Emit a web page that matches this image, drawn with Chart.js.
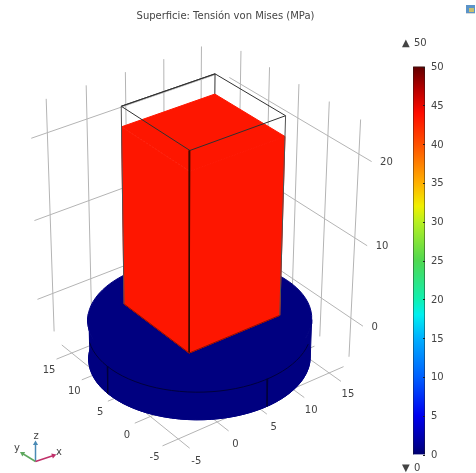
<!DOCTYPE html>
<html><head><meta charset="utf-8">
<script src="https://cdn.jsdelivr.net/npm/chart.js@4"></script>
<style>html,body{margin:0;padding:0;background:#fff;width:476px;height:473px;overflow:hidden}
canvas{position:absolute;top:0;display:block;filter:blur(0.4px)}</style></head>
<body>
<canvas id="main" width="476" height="473" style="left:0;width:476px;height:473px"></canvas>
<canvas id="bar" width="63" height="473" style="left:413px;width:63px;height:473px"></canvas>
<script>
// --- values ---
const titleText = 'Superficie: Tensión von Mises (MPa)';
const xTicks = [-5, 0, 5, 10, 15];
const yTicks = [-5, 0, 5, 10, 15];
const zTicks = [0, 10, 20];
const gridRange = [-7, 17];
const wallLeftY = 18.5, wallRightX = 17.7, floorZ = -6, wallZ = [-5, 24];
const discCentre = [5, 5], discRadius = 12, discZ = [-5, 0], discSeamZ = -1.5, discSeamAngles = [180, 270];
const blockX = [0, 12], blockY = [0, 12], blockZ = [0, 21.8], frameTopZ = 24.2;
const barTicks = [0, 5, 10, 15, 20, 25, 30, 35, 40, 45, 50];
const barRange = [0, 50];
const barStops = [0, 1, 5, 10, 15, 18, 20, 25, 30, 32, 35, 40, 44, 47, 50];
const barColors = ['#00006e','#000090','#0000f0','#0060ff','#00b0ff','#00f0f0','#10f0b0','#50d850','#b8f020','#f0f000','#ffb000','#ff5000','#ff0c00','#b80000','#600000'];
const minLabel = '0', maxLabel = '50';
const discColor = '#000080', blockColor = '#fe1600', gridColor = '#b4b4b4', textColor = '#444444';
// perspective camera fitted to the picture
const cam = [8.12004,-5.03989,-0.393278,189.139,-2.50591,-3.15897,-8.70878,353.079,0.00202599,0.00308388,-0.00223714];
const project = (x,y,z) => { const w = cam[8]*x+cam[9]*y+cam[10]*z+1;
  return {x:(cam[0]*x+cam[1]*y+cam[2]*z+cam[3])/w, y:(cam[4]*x+cam[5]*y+cam[6]*z+cam[7])/w}; };

const sets = [];
const line = (pts,color=gridColor,w=1) => sets.push({data:pts.map(p=>project(...p)),borderColor:color,borderWidth:w,showLine:true,pointRadius:0,fill:false,tension:0});
const poly = (pts,color) => sets.push({data:pts.map(p=>project(...p)),borderColor:color,backgroundColor:color,borderWidth:1,showLine:true,pointRadius:0,fill:'shape',tension:0});
const [g0,g1] = gridRange;
// floor and walls
for (const x of xTicks) line([[x,g0,floorZ],[x,g1,floorZ]]);
for (const y of yTicks) line([[g0,y,floorZ],[g1,y,floorZ]]);
for (const x of xTicks) line([[x,wallLeftY,wallZ[0]],[x,wallLeftY,wallZ[1]]]);
for (const y of yTicks) line([[wallRightX,y,wallZ[0]],[wallRightX,y,wallZ[1]]]);
for (const z of zTicks) { line([[g0,wallLeftY,z],[g1,wallLeftY,z]]); line([[wallRightX,g0,z],[wallRightX,g1,z]]); }
// back of the wire frame
const [bx0,bx1]=blockX,[by0,by1]=blockY,[bz0,bz1]=blockZ,ft=frameTopZ;
const frame='#303030';
line([[bx0,by1,ft],[bx1,by1,ft]],frame); line([[bx1,by1,ft],[bx1,by0,ft]],frame); line([[bx1,by1,ft],[bx1,by1,bz1]],frame);
// disc
const ring=(z,a0,a1)=>{const r=[];for(let a=a0;a<=a1;a+=4){const t=a*Math.PI/180;r.push([discCentre[0]+discRadius*Math.cos(t),discCentre[1]+discRadius*Math.sin(t),z]);}return r;};
poly(ring(discZ[0],0,360),discColor);
poly([...ring(discZ[1],140,320),...ring(discZ[0],140,320).reverse()],discColor);
poly(ring(discZ[1],0,360),discColor);
line(ring(discSeamZ,156,310),'#00003c');
for(const a of discSeamAngles){const t=a*Math.PI/180,x=discCentre[0]+discRadius*Math.cos(t),y=discCentre[1]+discRadius*Math.sin(t);line([[x,y,discSeamZ],[x,y,discZ[0]]],'#00003c');}
// block
poly([[bx0,by0,bz1],[bx1,by0,bz1],[bx1,by1,bz1],[bx0,by1,bz1]],blockColor);
poly([[bx0,by0,bz0],[bx1,by0,bz0],[bx1,by0,bz1],[bx0,by0,bz1]],blockColor);
poly([[bx0,by0,bz0],[bx0,by1,bz0],[bx0,by1,bz1],[bx0,by0,bz1]],blockColor);
// front of the wire frame
line([[bx0,by0,ft],[bx1,by0,ft]],frame); line([[bx0,by0,ft],[bx0,by1,ft]],frame); line([[bx0,by1,ft],[bx1,by1,ft]],frame);
line([[bx0,by0,ft],[bx0,by0,bz0]],'#3a0a00'); line([[bx1,by0,ft],[bx1,by0,bz0]],'#505050'); line([[bx0,by1,ft],[bx0,by1,bz0]],'#505050');
line([[bx0,by0,bz0],[bx1,by0,bz0]],'#901000'); line([[bx0,by0,bz0],[bx0,by1,bz0]],'#901000');
// orientation triad
const triadOrigin=[35.5,461.5];
const triad=[{tip:[0,-18],c:'#4a8ab5',rot:0},{tip:[-13,-8],c:'#5fa85f',rot:-58},{tip:[18,-6],c:'#c0306a',rot:72}];
for(const t of triad) sets.push({data:[{x:triadOrigin[0],y:triadOrigin[1]},{x:triadOrigin[0]+t.tip[0],y:triadOrigin[1]+t.tip[1]}],borderColor:t.c,backgroundColor:t.c,borderWidth:1.5,showLine:true,pointRadius:[0,3],pointStyle:'triangle',pointRotation:t.rot,pointBorderWidth:0,fill:false});
sets.forEach((s,i)=>{s.order=sets.length-i;});

const sceneText={id:'sceneText',afterDatasetsDraw(c){
  const {ctx,scales:{x:sx,y:sy}}=c, at=(p)=>[sx.getPixelForValue(p.x),sy.getPixelForValue(p.y)];
  ctx.save();ctx.font='10px "DejaVu Sans"';ctx.fillStyle=textColor;ctx.textAlign='center';ctx.textBaseline='middle';
  for(const v of xTicks){const [u,w]=at(project(v,-8.5,floorZ));ctx.fillText(String(v),u-2,w+6.5);}
  for(const v of yTicks){const [u,w]=at(project(-9,v,floorZ));ctx.fillText(String(v),u+8,w+5);}
  ctx.textAlign='left';
  for(const v of zTicks){const [u,w]=at(project(wallRightX,g0,v));ctx.fillText(String(v),u+8.5,w+1);}
  ctx.textAlign='center';
  ctx.fillText('z',36,436);ctx.fillText('y',17,448);ctx.fillText('x',59,452);
  ctx.textAlign='left';
  ctx.fillText('\u25B2',402,43);ctx.fillText(maxLabel,414,43);
  ctx.fillText('\u25BC',402,468);ctx.fillText(minLabel,414,468);
  // small window icon in the corner
  ctx.fillStyle='#5b93c8';ctx.fillRect(466,5,9,8);ctx.fillStyle='#c8c070';ctx.fillRect(469,8,5,4);ctx.fillStyle='#d8d8d8';ctx.fillRect(466,13,9,1);
  ctx.restore();
}};

new Chart(document.getElementById('main'),{type:'scatter',data:{datasets:sets},plugins:[sceneText],options:{
  responsive:false,animation:false,events:[],layout:{autoPadding:false,padding:{right:25}},
  plugins:{legend:{display:false},tooltip:{enabled:false},
    title:{display:true,text:titleText,color:textColor,font:{family:'"DejaVu Sans"',size:10,weight:'normal',lineHeight:1.2},padding:{top:10,bottom:10}}},
  scales:{x:{type:'linear',display:false,min:0,max:451},y:{type:'linear',display:false,reverse:true,min:32,max:473}}
}});

const barTickMarks={id:'barTickMarks',afterDatasetsDraw(c){
  const {ctx,chartArea:a,scales:{y}}=c;ctx.save();ctx.strokeStyle='#202020';ctx.lineWidth=1;
  for(const v of barTicks){const p=Math.round(y.getPixelForValue(v))+.5;ctx.beginPath();ctx.moveTo(a.right-2,p);ctx.lineTo(a.right,p);ctx.stroke();}
  ctx.strokeStyle='rgba(30,30,30,.45)';ctx.beginPath();ctx.moveTo(a.left+.5,a.bottom);ctx.lineTo(a.left+.5,a.top+.5);ctx.lineTo(a.right-.5,a.top+.5);ctx.lineTo(a.right-.5,a.bottom);ctx.stroke();
  ctx.restore();}};
new Chart(document.getElementById('bar'),{type:'bar',plugins:[barTickMarks],data:{labels:[''],datasets:[{data:[barRange],barPercentage:1,categoryPercentage:1,borderWidth:0,
  backgroundColor(ctx){const a=ctx.chart.chartArea;if(!a)return '#000';const g=ctx.chart.ctx.createLinearGradient(0,a.bottom,0,a.top);
    barStops.forEach((v,i)=>g.addColorStop((v-barRange[0])/(barRange[1]-barRange[0]),barColors[i]));return g;}}]},
 options:{responsive:false,animation:false,events:[],layout:{autoPadding:false,padding:{top:66.5,bottom:18.5,left:0,right:0}},
  plugins:{legend:{display:false},tooltip:{enabled:false},title:{display:false}},
  scales:{x:{display:false},
   y:{position:'right',min:barRange[0],max:barRange[1],afterFit(s){s.width=51;},
      afterBuildTicks(s){s.ticks=barTicks.map(v=>({value:v}));},
      border:{display:false},grid:{display:false,drawTicks:false},
      ticks:{color:textColor,padding:6,labelOffset:1,font:{family:'"DejaVu Sans"',size:10},autoSkip:false}}}}});
</script>
</body></html>
